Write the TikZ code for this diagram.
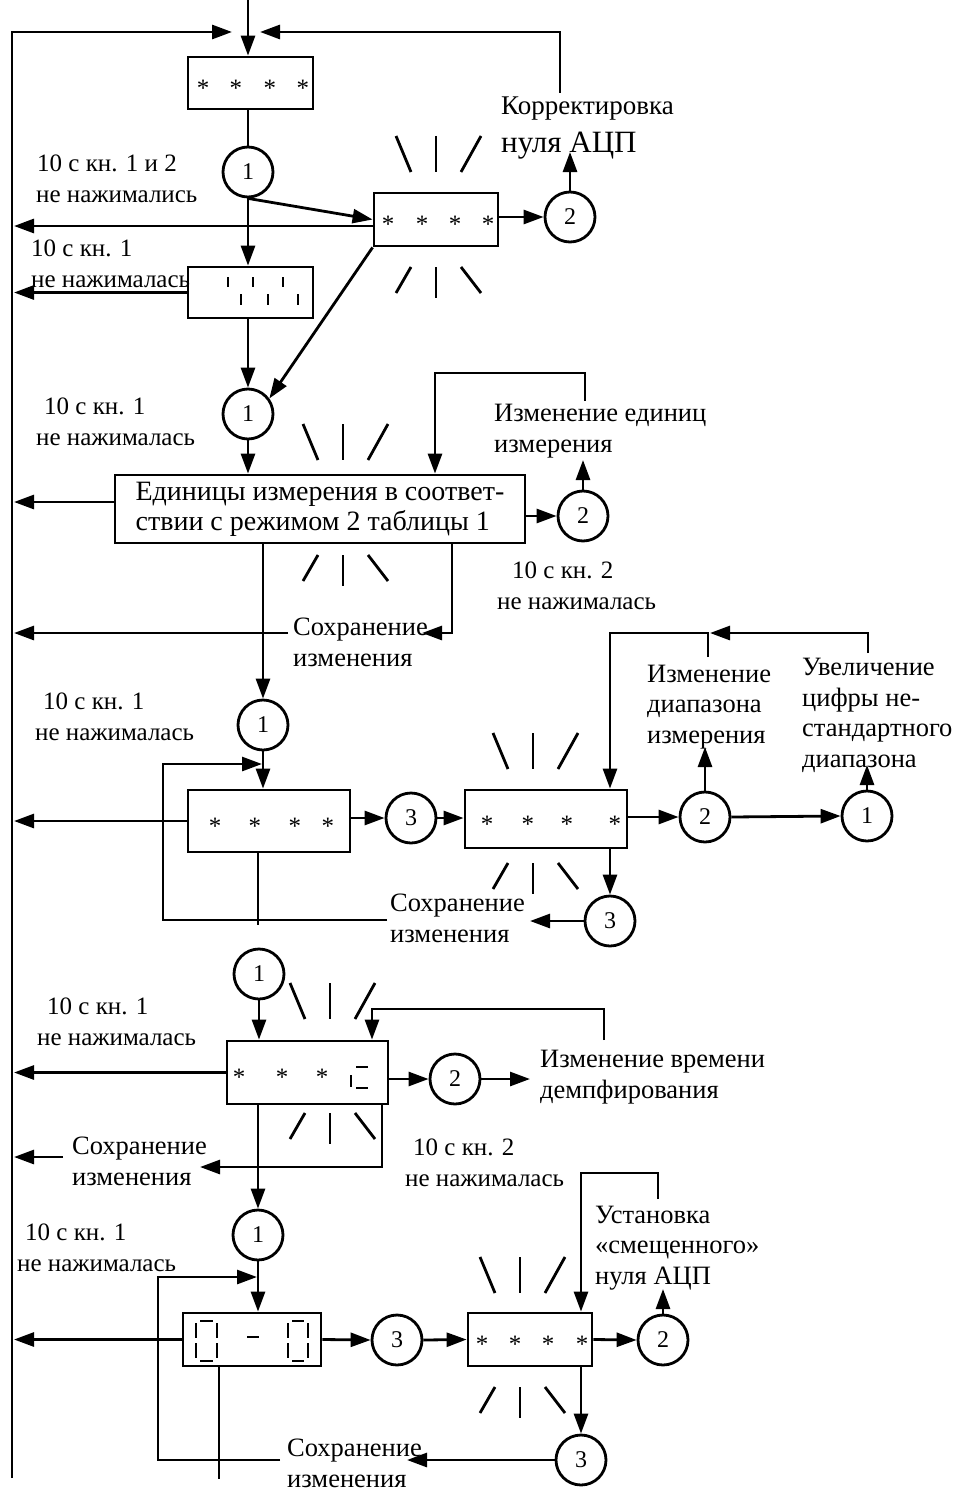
\documentclass[tikz,border=0pt]{standalone}
\usepackage{fontspec}
\setmainfont{Liberation Serif}
\usetikzlibrary{arrows.meta,calc}
\newcommand\lblfont{\fontsize{25}{30.5}\selectfont}
\newcommand\dscfont{\fontsize{26.5}{30.5}\selectfont}
\newcommand\boxfont{\fontsize{28}{30}\selectfont}
\newcommand\bigfont{\fontsize{31}{36}\selectfont}
\newcommand\numfont{\fontsize{24}{26}\selectfont}
\newcommand\starfont{\fontsize{25}{26}\selectfont}
\newcommand\st{\makebox[0pt]{\raisebox{-0.53em}[0pt][0pt]{*}}}
\newcommand\flashtop[2]{%
  \draw[ln] ({#1-40},#2) -- ({#1-25},{#2+36});
  \draw[ln] (#1,#2) -- (#1,{#2+36});
  \draw[ln] ({#1+45},#2) -- ({#1+25},{#2+36});}
\newcommand\flashbot[2]{%
  \draw[ln] ({#1-25},#2) -- ({#1-40},{#2+26});
  \draw[ln] (#1,#2) -- (#1,{#2+31});
  \draw[ln] ({#1+25},#2) -- ({#1+45},{#2+26});}
\begin{document}
\begin{tikzpicture}[x=1pt,y=-1pt,
  ln/.style={line width=2.8pt},
  arr/.style={line width=2.8pt,-{Triangle[length=20pt,width=14pt]}},
  box/.style={draw,line width=2.8pt,inner sep=0pt,font=\starfont},
  circ/.style={draw,circle,line width=2.8pt,minimum size=50pt,inner sep=0pt,font=\numfont},
  lbl/.style={anchor=base west,inner sep=0pt,align=left,font=\lblfont},
  dsc/.style={lbl,font=\dscfont}]
\useasboundingbox (0,0) rectangle (959,1493);

% ---------- boxes ----------
\node[box,minimum width=125,minimum height=52] (b1) at (250.5,83) {\hskip5pt\st\hskip33pt\st\hskip34pt\st\hskip33pt\st};
\node[box,minimum width=124,minimum height=53] (bA) at (436,219.5) {\hskip4pt\st\hskip34pt\st\hskip33pt\st\hskip33pt\st};
\node[box,minimum width=125,minimum height=51] (b2) at (250.5,292.5) {};
\node[box,minimum width=410,minimum height=68,font=\boxfont,align=left] (bB) at (320,509) {Единицы измерения в соответ-\\ствии с режимом 2 таблицы 1};
\node[box,minimum width=162,minimum height=62] (bC) at (269,821) {\hskip5pt\st\hskip40pt\st\hskip40pt\st\hskip33pt\st};
\node[box,minimum width=162,minimum height=58] (bC2) at (546,819) {\hskip10pt\st\hskip41pt\st\hskip39pt\st\hskip48pt\st};
\node[box,minimum width=161,minimum height=63] (bD) at (307.5,1072.5) {\st\hskip43pt\st\hskip40pt\st\hskip54pt\null};
\node[box,minimum width=138,minimum height=53] (bF) at (252,1339.5) {};
\node[box,minimum width=124,minimum height=53] (bE) at (530,1339.5) {\hskip4pt\st\hskip33pt\st\hskip33pt\st\hskip34pt\st};

% ---------- circles ----------
\node[circ] (cA1) at (248,172) {1};
\node[circ] (cA2) at (570,217) {2};
\node[circ] (cB1) at (248,414) {1};
\node[circ] (cB2) at (583,516) {2};
\node[circ] (cC1) at (263,725) {1};
\node[circ] (cC3) at (411,818) {3};
\node[circ] (cC2) at (705,817) {2};
\node[circ] (cC1r) at (867,816) {1};
\node[circ] (cC3b) at (610,921) {3};
\node[circ] (cD1) at (259,974) {1};
\node[circ] (cD2) at (455,1079) {2};
\node[circ] (cE1) at (258,1235) {1};
\node[circ] (cF3) at (397,1340) {3};
\node[circ] (cE2) at (663,1340) {2};
\node[circ] (cE3) at (581,1460) {3};

% ---------- labels (anchored at the baseline of the last line) ----------
\node[lbl] (l1) at (36,202) {\hspace*{1pt}10 с кн. 1 и 2\\не нажимались};
\node[lbl] (l2) at (31,287) {10 с кн. 1\\не нажималась};
\node[dsc,font=\fontsize{27}{30}\selectfont] (kor1) at (501,115) {Корректировка};
\node[lbl,font=\bigfont] (kor2) at (501,152) {нуля АЦП};
\node[lbl] (l4) at (36,445) {\hspace*{8pt}10 с кн. 1\\не нажималась};
\node[dsc] (l5) at (494,452) {Изменение единиц\\измерения};
\node[lbl] (l6) at (497,609) {\hspace*{15pt}10 с кн. 2\\не нажималась};
\node[dsc] (l7) at (293,666) {Сохранение\\изменения};
\node[lbl] (l8) at (35,740) {\hspace*{8pt}10 с кн. 1\\не нажималась};
\node[dsc] (l9) at (647,743) {Изменение\\диапазона\\измерения};
\node[dsc] (l10) at (802,767) {Увеличение\\цифры не-\\стандартного\\диапазона};
\node[dsc] (l11) at (390,942) {Сохранение\\изменения};
\node[lbl] (l12) at (37,1045) {\hspace*{10pt}10 с кн. 1\\не нажималась};
\node[dsc] (l13) at (540,1098) {Изменение времени\\демпфирования};
\node[dsc] (l14) at (72,1185) {Сохранение\\изменения};
\node[lbl] (l15) at (405,1186) {\hspace*{8pt}10 с кн. 2\\не нажималась};
\node[lbl] (l16) at (17,1271) {\hspace*{8pt}10 с кн. 1\\не нажималась};
\node[dsc] (l17) at (595,1284) {Установка\\«смещенного»\\нуля АЦП};
\node[dsc] (l18) at (287,1487) {Сохранение\\изменения};

% ---------- coordinates ----------
\coordinate (busx) at (14,0);
\coordinate (in) at (248,0);
\coordinate (LT) at (12,32);
\coordinate (LB) at (12,1478);
\coordinate (tl) at (232,32);
\coordinate (kr) at (560,93);
\coordinate (tr) at (260,32);
\coordinate (kt) at (570,152);
\coordinate (aL) at ($(bA.west)+(0,6.5)$);
\coordinate (bL) at ($(bB.west)+(0,-7)$);
\coordinate (ieb) at (583,460);
\coordinate (iet) at (585,401);
\coordinate (ie2) at (435,373);
\coordinate (sBr) at (452,543);
\coordinate (sB) at (422,633);
\coordinate (sBl) at (288,633);
\coordinate (sCr) at (387,920);
\coordinate (sCc) at (163,764);
\coordinate (sCt) at (262,764);
\coordinate (cCd) at (258,925);
\coordinate (dC2) at (705,747);
\coordinate (dC1) at (867,765);
\coordinate (uvr) at (868,653);
\coordinate (uvt) at (710,633);
\coordinate (dis) at (708,657);
\coordinate (dik) at (610,633);
\coordinate (sC3) at (530,921);
\coordinate (vrr) at (530,1079);
\coordinate (vrb) at (604,1040);
\coordinate (vrk) at (372,1009);
\coordinate (sDr) at (382,1104);
\coordinate (sD) at (200,1167);
\coordinate (sDl) at (63,1157);
\coordinate (sFr) at (280,1460);
\coordinate (sFc) at (158,1277);
\coordinate (sFt) at (257,1277);
\coordinate (fD) at (219,1479);
\coordinate (uE) at (663,1289);
\coordinate (ust) at (658,1199);
\coordinate (usk) at (581,1173);
\coordinate (sE3) at (407,1460);

% ---------- connectors ----------
\draw[arr] (in) -- (in |- b1.north);
\draw[arr] (LB) -- (LT) -- (tl);
\draw[arr] (kr) |- (tr);
\draw[ln] (b1.south -| cA1) -- (cA1.north);
\draw[arr] (cA1.south) -- (bA.west);
\draw[arr] (cA1.south) -- (cA1.south |- b2.north);
\draw[arr] (aL) -- (aL -| busx);
\draw[arr] (bA.east |- cA2) -- (cA2.west);
\draw[arr] (cA2.north) -- (kt);
\draw[arr] (b2.west) -- (b2.west -| busx);
\draw[arr] (b2.south -| cB1) -- (cB1.north);
\draw[arr] (bA.south west) -- (cB1.36);
\draw[arr] (cB1.south) -- (cB1.south |- bB.north);
\draw[arr] (bL) -- (bL -| busx);
\draw[arr] (bB.east |- cB2) -- (cB2.west);
\draw[arr] (cB2.north) -- (ieb);
\draw[arr] (iet) |- (ie2) -- (ie2 |- bB.north);
\draw[arr] (bB.south -| cC1) -- (cC1.north);
\draw[arr] (sBr) |- (sB);
\draw[arr] (sBl) -- (sBl -| busx);
\draw[arr] (cC1.south) -- (cC1.south |- bC.north);
\draw[arr] (sCr) -| (sCc) -- (sCt);
\draw[ln] (bC.south -| cCd) -- (cCd);
\draw[arr] (bC.west) -- (bC.west -| busx);
\draw[arr] (bC.east |- cC3) -- (cC3.west);
\draw[arr] (cC3.east) -- (cC3.east -| bC2.west);
\draw[arr] (bC2.east |- cC2) -- (cC2.west);
\draw[arr] (cC2.east) -- (cC1r.west);
\draw[arr] (cC2.north) -- (dC2);
\draw[arr] (cC1r.north) -- (dC1);
\draw[arr] (uvr) |- (uvt);
\draw[arr] (dis) |- (dik) -- (dik |- bC2.north);
\draw[arr] (bC2.south -| cC3b) -- (cC3b.north);
\draw[arr] (cC3b.west) -- (sC3);
\draw[arr] (cD1.south) -- (cD1.south |- bD.north);
\draw[arr] (bD.west) -- (bD.west -| busx);
\draw[arr] (bD.east |- cD2) -- (cD2.west);
\draw[arr] (cD2.east) -- (vrr);
\draw[arr] (vrb) |- (vrk) -- (vrk |- bD.north);
\draw[arr] (bD.south -| cE1) -- (cE1.north);
\draw[arr] (sDr) |- (sD);
\draw[arr] (sDl) -- (sDl -| busx);
\draw[arr] (cE1.south) -- (cE1.south |- bF.north);
\draw[arr] (sFr) -| (sFc) -- (sFt);
\draw[ln] (bF.south -| fD) -- (fD);
\draw[arr] (bF.west) -- (bF.west -| busx);
\draw[arr] (bF.east) -- (cF3.west);
\draw[arr] (cF3.east) -- (bE.west);
\draw[arr] (bE.east) -- (cE2.west);
\draw[arr] (cE2.north) -- (uE);
\draw[arr] (ust) |- (usk) -- (usk |- bE.north);
\draw[arr] (bE.south -| cE3) -- (cE3.north);
\draw[arr] (cE3.west) -- (sE3);

% ---------- flash marks ----------
\flashtop{436}{136} \flashbot{436}{267}
\flashtop{343}{424} \flashbot{343}{555}
\flashtop{533}{733} \flashbot{533}{863}
\flashtop{330}{983} \flashbot{330}{1113}
\flashtop{520}{1257} \flashbot{520}{1387}

% ---------- display glyphs ----------
\foreach \x in {228,253,283} \draw[ln] (\x,277) -- (\x,287);
\foreach \x in {241,268,298} \draw[ln] (\x,294) -- (\x,305);
\draw[ln] (351,1075) -- (351,1087);
\draw[ln] (356,1067) -- (368,1067);
\draw[ln] (356,1088) -- (368,1088);
\foreach \a/\b in {196/217,288/308}{
  \draw[ln] (\a,1323) -- (\a,1338);
  \draw[ln] (\a,1343) -- (\a,1358);
  \draw[ln] (\b,1323) -- (\b,1338);
  \draw[ln] (\b,1343) -- (\b,1358);
  \draw[ln] ({\a+4},1321) -- ({\b-4},1321);
  \draw[ln] ({\a+4},1361) -- ({\b-4},1361);
}
\draw[ln] (247,1337) -- (259,1337);
\end{tikzpicture}
\end{document}
